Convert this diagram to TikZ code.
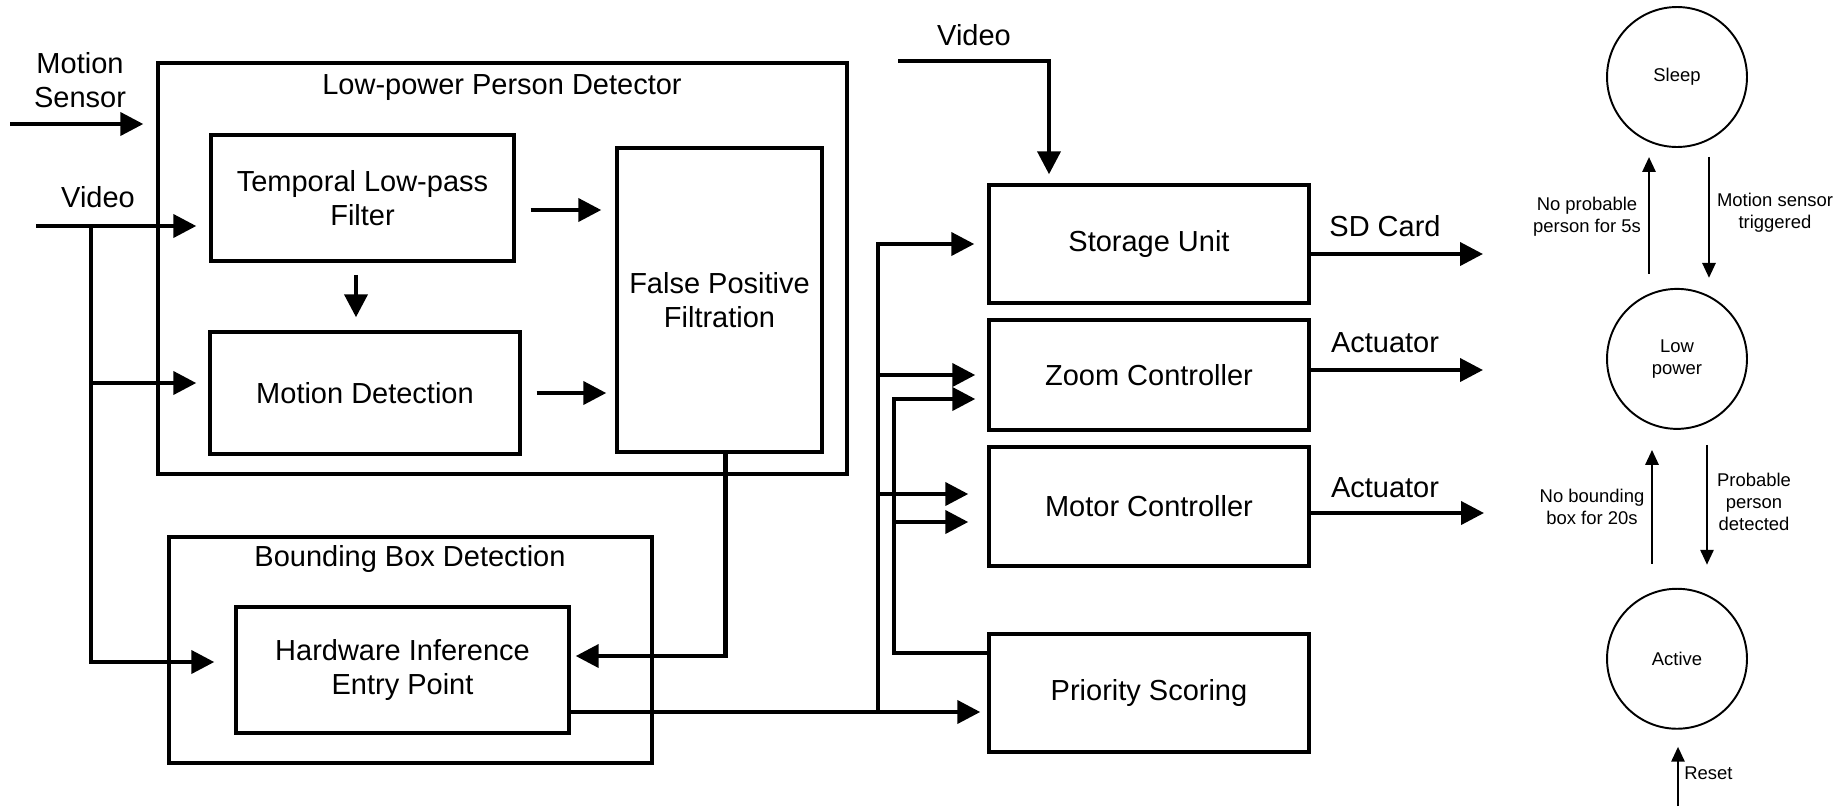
\documentclass[tikz,border=0pt]{standalone}
\usepackage{fontspec}
\setmainfont{Liberation Sans}
\usetikzlibrary{arrows.meta, positioning}

\tikzset{
  block/.style={draw, line width=2pt, align=center, inner sep=0pt},
  unit/.style={block, minimum width=6.4cm},
  group/.style={draw, line width=2pt, inner sep=0pt},
  lbl/.style={align=center, inner sep=0pt},
  note/.style={lbl, font=\fontsize{10.5}{12.5}\selectfont},
  state/.style={circle, draw, line width=1.1pt, minimum size=2.8cm, align=center,
    font=\fontsize{10.5}{12.5}\selectfont},
  flow/.style={line width=2.3pt, -{Triangle[length=0.46cm,width=0.46cm]}},
  trans/.style={line width=1.6pt, -{Triangle[length=0.3cm,width=0.26cm]}}
}

\begin{document}
\begin{tikzpicture}[x=0.02cm, y=-0.02cm, font=\fontsize{16.5}{19.5}\selectfont]
    \useasboundingbox (0,0) rectangle (1847,806);

    % detector groups
    \node[group, minimum width=13.78cm, minimum height=8.22cm] (lpd) at (502.5,268.5) {};
    \node[lbl] (lpdtitle) at (502,88) {Low-power Person Detector};
    \node[group, minimum width=9.66cm, minimum height=4.52cm] (bbd) at (410.5,650) {};
    \node[lbl] (bbdtitle) at (410,559) {Bounding Box Detection};

    \node[block, minimum width=6.06cm, minimum height=2.52cm] (tlp) at (362.5,198) {Temporal Low-pass\\Filter};
    \node[block, minimum width=6.2cm, minimum height=2.44cm] (md) at (365,393) {Motion Detection};
    \node[block, minimum width=4.1cm, minimum height=6.08cm] (fpf) at (719.5,300) {False Positive\\Filtration};
    \node[block, minimum width=6.66cm, minimum height=2.52cm] (hie) at (402.5,670) {Hardware Inference\\Entry Point};

    % output units
    \node[unit, minimum height=2.36cm] (su) at (1149,244) {Storage Unit};
    \node[unit, minimum height=2.2cm] (zc) at (1149,375) {Zoom Controller};
    \node[unit, minimum height=2.38cm] (mc) at (1149,506.5) {Motor Controller};
    \node[unit, minimum height=2.36cm] (ps) at (1149,693) {Priority Scoring};

    % inputs
    \node[lbl] (msl) at (80,80) {Motion\\Sensor};
    \coordinate (msin) at (10,124);
    \draw[flow, shorten >=0.26cm] (msin) -- (msin -| lpd.west);

    \node[lbl] (vidl) at (98,197) {Video};
    \coordinate (vin) at (36,226);
    \coordinate (vsplit) at (91,226);
    \draw[flow, shorten >=0.26cm] (vin) -- (vin -| tlp.west);
    \draw[flow, shorten >=0.24cm] (vsplit) |- ([yshift=0.2cm]md.west);
    \draw[flow, shorten >=0.4cm] (vsplit) |- ([yshift=0.16cm]hie.west);

    \draw[flow, shorten <=0.3cm, shorten >=0.28cm] ([yshift=-0.24cm]tlp.east) -- ([yshift=-0.24cm]tlp.east -| fpf.west);
    \draw[flow, shorten <=0.24cm, shorten >=0.26cm] ([xshift=-0.13cm]tlp.south) -- ([xshift=-0.13cm]tlp.south |- md.north);
    \draw[flow, shorten <=0.3cm, shorten >=0.18cm] (md.east) -- (md.east -| fpf.west);
    \draw[flow, shorten >=0.1cm] ([xshift=0.12cm]fpf.south) |- ([yshift=0.28cm]hie.east);

    % bus to the units
    \coordinate (busa) at (878,712);
    \draw[flow, shorten >=0.14cm] ([yshift=-0.84cm]hie.east) -- ([yshift=-0.84cm]hie.east -| ps.west);
    \draw[flow, shorten >=0.26cm] (busa) |- (su.west);
    \draw[flow, shorten >=0.24cm] (busa |- zc.west) -- (zc.west);
    \draw[flow, shorten >=0.38cm] ([yshift=0.25cm]mc.west -| busa) -- ([yshift=0.25cm]mc.west);

    % priority feedback
    \coordinate (fb) at (894,399);
    \draw[flow, shorten >=0.24cm] ([yshift=0.8cm]ps.west) -| (fb) |- ([yshift=-0.48cm]zc.west);
    \draw[flow, shorten >=0.38cm] ([yshift=-0.31cm]mc.west -| fb) -- ([yshift=-0.31cm]mc.west);

    \node[lbl] (vidt) at (974,35) {Video};
    \coordinate (vtop) at (898,61);
    \draw[flow, shorten >=0.18cm] (vtop) -| ([xshift=-2cm]su.north);

    % outputs
    \coordinate (sdout) at (1483,254);
    \coordinate (zcout) at (1483,370);
    \coordinate (mcout) at (1484,513);
    \draw[flow] (sdout -| su.east) -- (sdout);
    \draw[flow] (zcout -| zc.east) -- (zcout);
    \draw[flow] (mcout -| mc.east) -- (mcout);
    \node[lbl] (sdl) at (1385,226) {SD Card};
    \node[lbl] (zcl) at (1385,343) {Actuator};
    \node[lbl] (mcl) at (1385,488) {Actuator};

    % power states
    \node[state] (sleep) at (1677,77) {Sleep};
    \node[state, below=2.8cm of sleep] (low) {Low\\power};
    \node[state, below=3.16cm of low] (active) {Active};

    \draw[trans, shorten <=0.28cm, shorten >=0.18cm] ([xshift=-0.56cm]low.north) -- ([xshift=-0.56cm]sleep.south);
    \draw[trans, shorten <=0.18cm, shorten >=0.2cm] ([xshift=0.64cm]sleep.south) -- ([xshift=0.64cm]low.north);
    \draw[trans, shorten <=0.48cm, shorten >=0.4cm] ([xshift=-0.5cm]active.north) -- ([xshift=-0.5cm]low.south);
    \draw[trans, shorten <=0.3cm, shorten >=0.46cm] ([xshift=0.6cm]low.south) -- ([xshift=0.6cm]active.north);
    \coordinate (rst) at (1678,806);
    \draw[trans, shorten >=0.34cm] (rst) -- (rst |- active.south);

    \node[note] (n1) at (1587,217) {No probable\\person for 5s};
    \node[note] (n2) at (1775,213) {Motion sensor\\triggered};
    \node[note] (n3) at (1592,507) {No bounding\\box for 20s};
    \node[note] (n4) at (1754,502) {Probable\\person\\detected};
    \node[note, anchor=west] (n5) at (1684,773) {Reset};
\end{tikzpicture}
\end{document}
